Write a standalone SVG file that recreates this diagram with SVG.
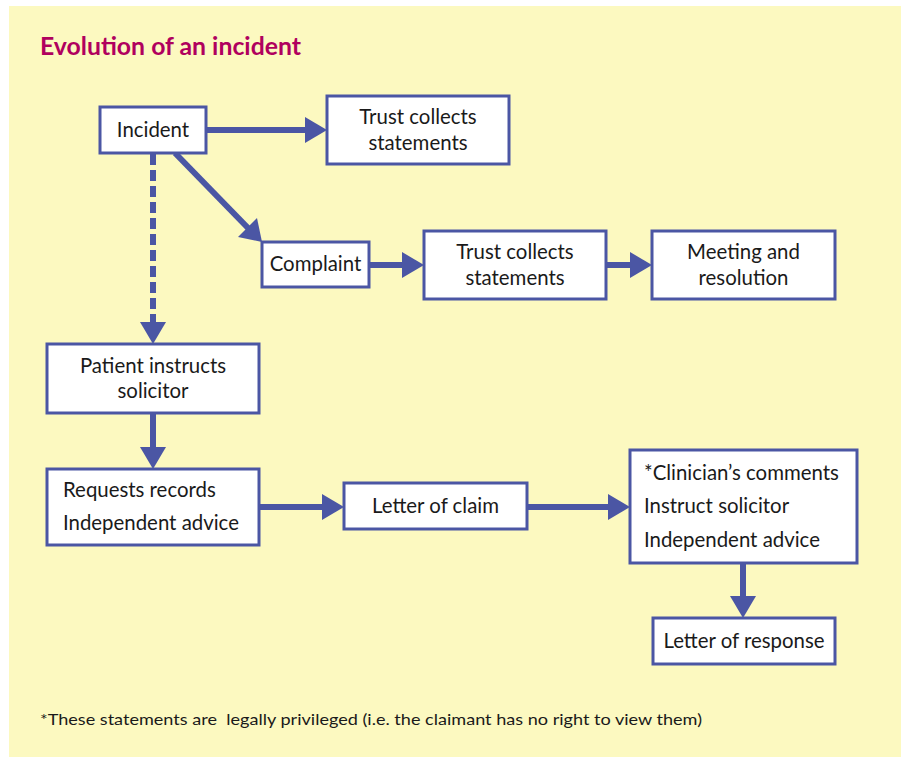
<svg xmlns="http://www.w3.org/2000/svg" width="901" height="757" viewBox="0 0 901 757">
<style>
.bg{fill:#fcf9c0}
.box{fill:#ffffff;stroke:#4b56a4;stroke-width:3}
.t{font-family:Lato,"Noto Sans",sans-serif;font-size:20.4px;fill:#1a1a1a}
.c{text-anchor:middle}
.ln{stroke:#4b56a4;stroke-width:6;fill:none}
.dash{stroke-dasharray:11 5}
.head{fill:#4b56a4}
.title{font-family:Lato,"Noto Sans",sans-serif;font-weight:bold;font-size:24.5px;fill:#b0005e}
.note{font-family:Lato,"Noto Sans",sans-serif;font-size:16px;fill:#1a1a1a;white-space:pre}
</style>
<rect class="bg" x="9" y="6" width="892" height="751"/>
<text class="title" x="40" y="55" textLength="261" lengthAdjust="spacingAndGlyphs">Evolution of an incident</text>
<g id="connectors">
<line class="ln" x1="206" y1="130" x2="306" y2="130"/>
<polygon class="head" points="305,117 327,130 305,143"/>
<line class="ln" x1="175" y1="153" x2="249" y2="229"/>
<polygon class="head" points="238,237 262,242 257,218"/>
<line class="ln dash" x1="153" y1="154" x2="153" y2="323"/>
<polygon class="head" points="140,322 153,344 166,322"/>
<line class="ln" x1="369" y1="265" x2="403" y2="265"/>
<polygon class="head" points="402,252 424,265 402,278"/>
<line class="ln" x1="606" y1="265" x2="631" y2="265"/>
<polygon class="head" points="630,252 652,265 630,278"/>
<line class="ln" x1="153" y1="413" x2="153" y2="448"/>
<polygon class="head" points="140,447 153,469 166,447"/>
<line class="ln" x1="259" y1="507" x2="323" y2="507"/>
<polygon class="head" points="322,494 344,507 322,520"/>
<line class="ln" x1="527" y1="507" x2="609" y2="507"/>
<polygon class="head" points="608,494 630,507 608,520"/>
<line class="ln" x1="743" y1="563" x2="743" y2="597"/>
<polygon class="head" points="730,596 743,618 756,596"/>
</g>
<g id="incident"><rect class="box" x="100" y="107" width="106" height="46"/><text class="t c" x="153" y="137">Incident</text></g>
<g id="trust1"><rect class="box" x="327" y="96" width="182" height="68"/><text class="t c" x="418" y="124">Trust collects</text><text class="t c" x="418" y="150">statements</text></g>
<g id="complaint"><rect class="box" x="262" y="242" width="107" height="45"/><text class="t c" x="315.5" y="271">Complaint</text></g>
<g id="trust2"><rect class="box" x="424" y="231" width="182" height="68"/><text class="t c" x="515" y="259">Trust collects</text><text class="t c" x="515" y="285">statements</text></g>
<g id="meeting"><rect class="box" x="652" y="231" width="183" height="68"/><text class="t c" x="743.5" y="259">Meeting and</text><text class="t c" x="743.5" y="285">resolution</text></g>
<g id="patient"><rect class="box" x="47" y="344" width="212" height="69"/><text class="t c" x="153" y="373">Patient instructs</text><text class="t c" x="153" y="398">solicitor</text></g>
<g id="requests"><rect class="box" x="47" y="469" width="212" height="76"/><text class="t" x="63" y="497">Requests records</text><text class="t" x="63" y="530">Independent advice</text></g>
<g id="claim"><rect class="box" x="344" y="483" width="183" height="46"/><text class="t c" x="435.5" y="513">Letter of claim</text></g>
<g id="clinician"><rect class="box" x="630" y="450" width="227" height="113"/><text class="t" x="644" y="480">*Clinician’s comments</text><text class="t" x="644" y="513">Instruct solicitor</text><text class="t" x="644" y="547">Independent advice</text></g>
<g id="response"><rect class="box" x="653" y="618" width="182" height="46"/><text class="t c" x="744" y="648">Letter of response</text></g>
<text class="note" x="40" y="725" xml:space="preserve" textLength="662" lengthAdjust="spacingAndGlyphs">*These statements are  legally privileged (i.e. the claimant has no right to view them)</text>
</svg>
